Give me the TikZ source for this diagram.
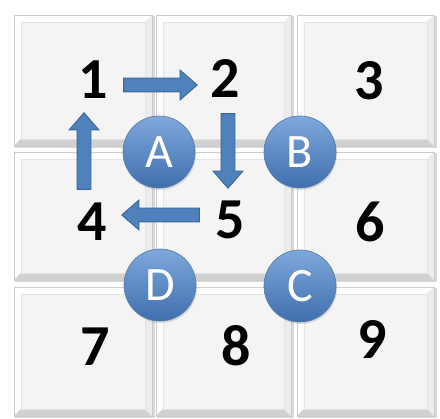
\documentclass[tikz,border=0pt]{standalone}
\usepackage{fontspec}
\setmainfont{Carlito}
\usetikzlibrary{shapes.arrows,calc,shadows}
\definecolor{arrowfill}{HTML}{4F81BD}
\definecolor{arrowline}{HTML}{3A6798}
\definecolor{face}{HTML}{F4F4F4}
\definecolor{rim}{HTML}{FAFAFA}
\definecolor{balltop}{HTML}{7FA8DC}
\definecolor{ballbot}{HTML}{3F6FAE}
\begin{document}
\begin{tikzpicture}[x=1pt,y=-1pt,
  num/.style={font=\fontsize{58}{58}\bfseries\selectfont, inner sep=0pt,
    minimum width=60pt, minimum height=70pt, text=black},
  ballnode/.style={circle, minimum size=72pt, inner sep=0pt,
    top color=balltop, bottom color=ballbot, draw=arrowline!85, line width=0.7pt,
    drop shadow={opacity=0.25, shadow xshift=1pt, shadow yshift=-2pt},
    font=\fontsize{48}{48}\selectfont, text=white},
  blockarrow/.style={single arrow, fill=arrowfill, draw=arrowline, line width=0.9pt,
    inner sep=6.5pt, minimum width=0pt, single arrow head extend=8pt,
    single arrow tip angle=82, anchor=tail},
  blockto/.style={to path={let \p1=(\tikztostart), \p2=(\tikztotarget),
    \n1={veclen(\x2-\x1,\y2-\y1)}, \n2={atan2(\y2-\y1,\x2-\x1)} in
    node[blockarrow, minimum height=\n1, rotate=\n2] at (\p1) {}}}
]
\useasboundingbox[fill=white] (0,0) rectangle (440,419);
% tiles
\foreach \a/\b/\c/\d in {14/15/152/146, 156/15/291/146, 297/15/434/146,
  14/152/152/280, 156/152/291/280, 297/152/434/280,
  14/287/152/416, 156/287/291/416, 297/287/434/416}{
  \fill[gray!30] (\a+1,\b+1) rectangle (\c+2.5,\d+2.5);
  \fill[rim] (\a,\b) rectangle (\c,\d);
  \fill[white] (\a,\b) -- (\c,\b) -- (\c-7,\b+7) -- (\a+7,\b+7) -- cycle;
  \fill[white] (\a,\b) -- (\a,\d) -- (\a+7,\d-7) -- (\a+7,\b+7) -- cycle;
  \fill[gray!36] (\a,\d) -- (\c,\d) -- (\c-7,\d-7) -- (\a+7,\d-7) -- cycle;
  \fill[gray!15] (\c,\b) -- (\c,\d) -- (\c-7,\d-7) -- (\c-7,\b+7) -- cycle;
  \fill[face] (\a+7,\b+7) rectangle (\c-7,\d-7);
  \draw[gray!22, line width=0.5pt] (\a+7,\b+7) rectangle (\c-7,\d-7);
  \draw[gray!40, line width=0.8pt] (\a,\b) rectangle (\c,\d);
}
% numbers
\node[num] (n1) at (93,80) {1};
\node[num] (n2) at (225,78) {2};
\node[num] (n3) at (369,81) {3};
\node[num] (n4) at (92,222) {4};
\node[num] (n5) at (230,220) {5};
\node[num] (n6) at (370,222) {6};
\node[num] (n7) at (95,347) {7};
\node[num] (n8) at (236,346) {8};
\node[num] (n9) at (372,339) {9};
% arrows
\path ([yshift=-5pt]n1.east) to[blockto] ([yshift=-5pt,xshift=2pt]n1.east -| n2.west);
\path ([xshift=3pt]n2.south) to[blockto] ([xshift=3pt,yshift=-3pt]n2.south |- n5.north);
\path ([yshift=5pt]n5.west) to[blockto] ([yshift=5pt]n5.west -| n4.east);
\path ([xshift=-8pt,yshift=-3pt]n4.north) to[blockto] ([xshift=-8pt,yshift=2pt]n4.north |- n1.south);
% balls
\node[ballnode] (A) at (159,152) {A};
\node[ballnode] (B) at (300,152) {B};
\node[ballnode] (C) at (300,286) {C};
\node[ballnode] (D) at (160,285) {D};
\end{tikzpicture}
\end{document}
